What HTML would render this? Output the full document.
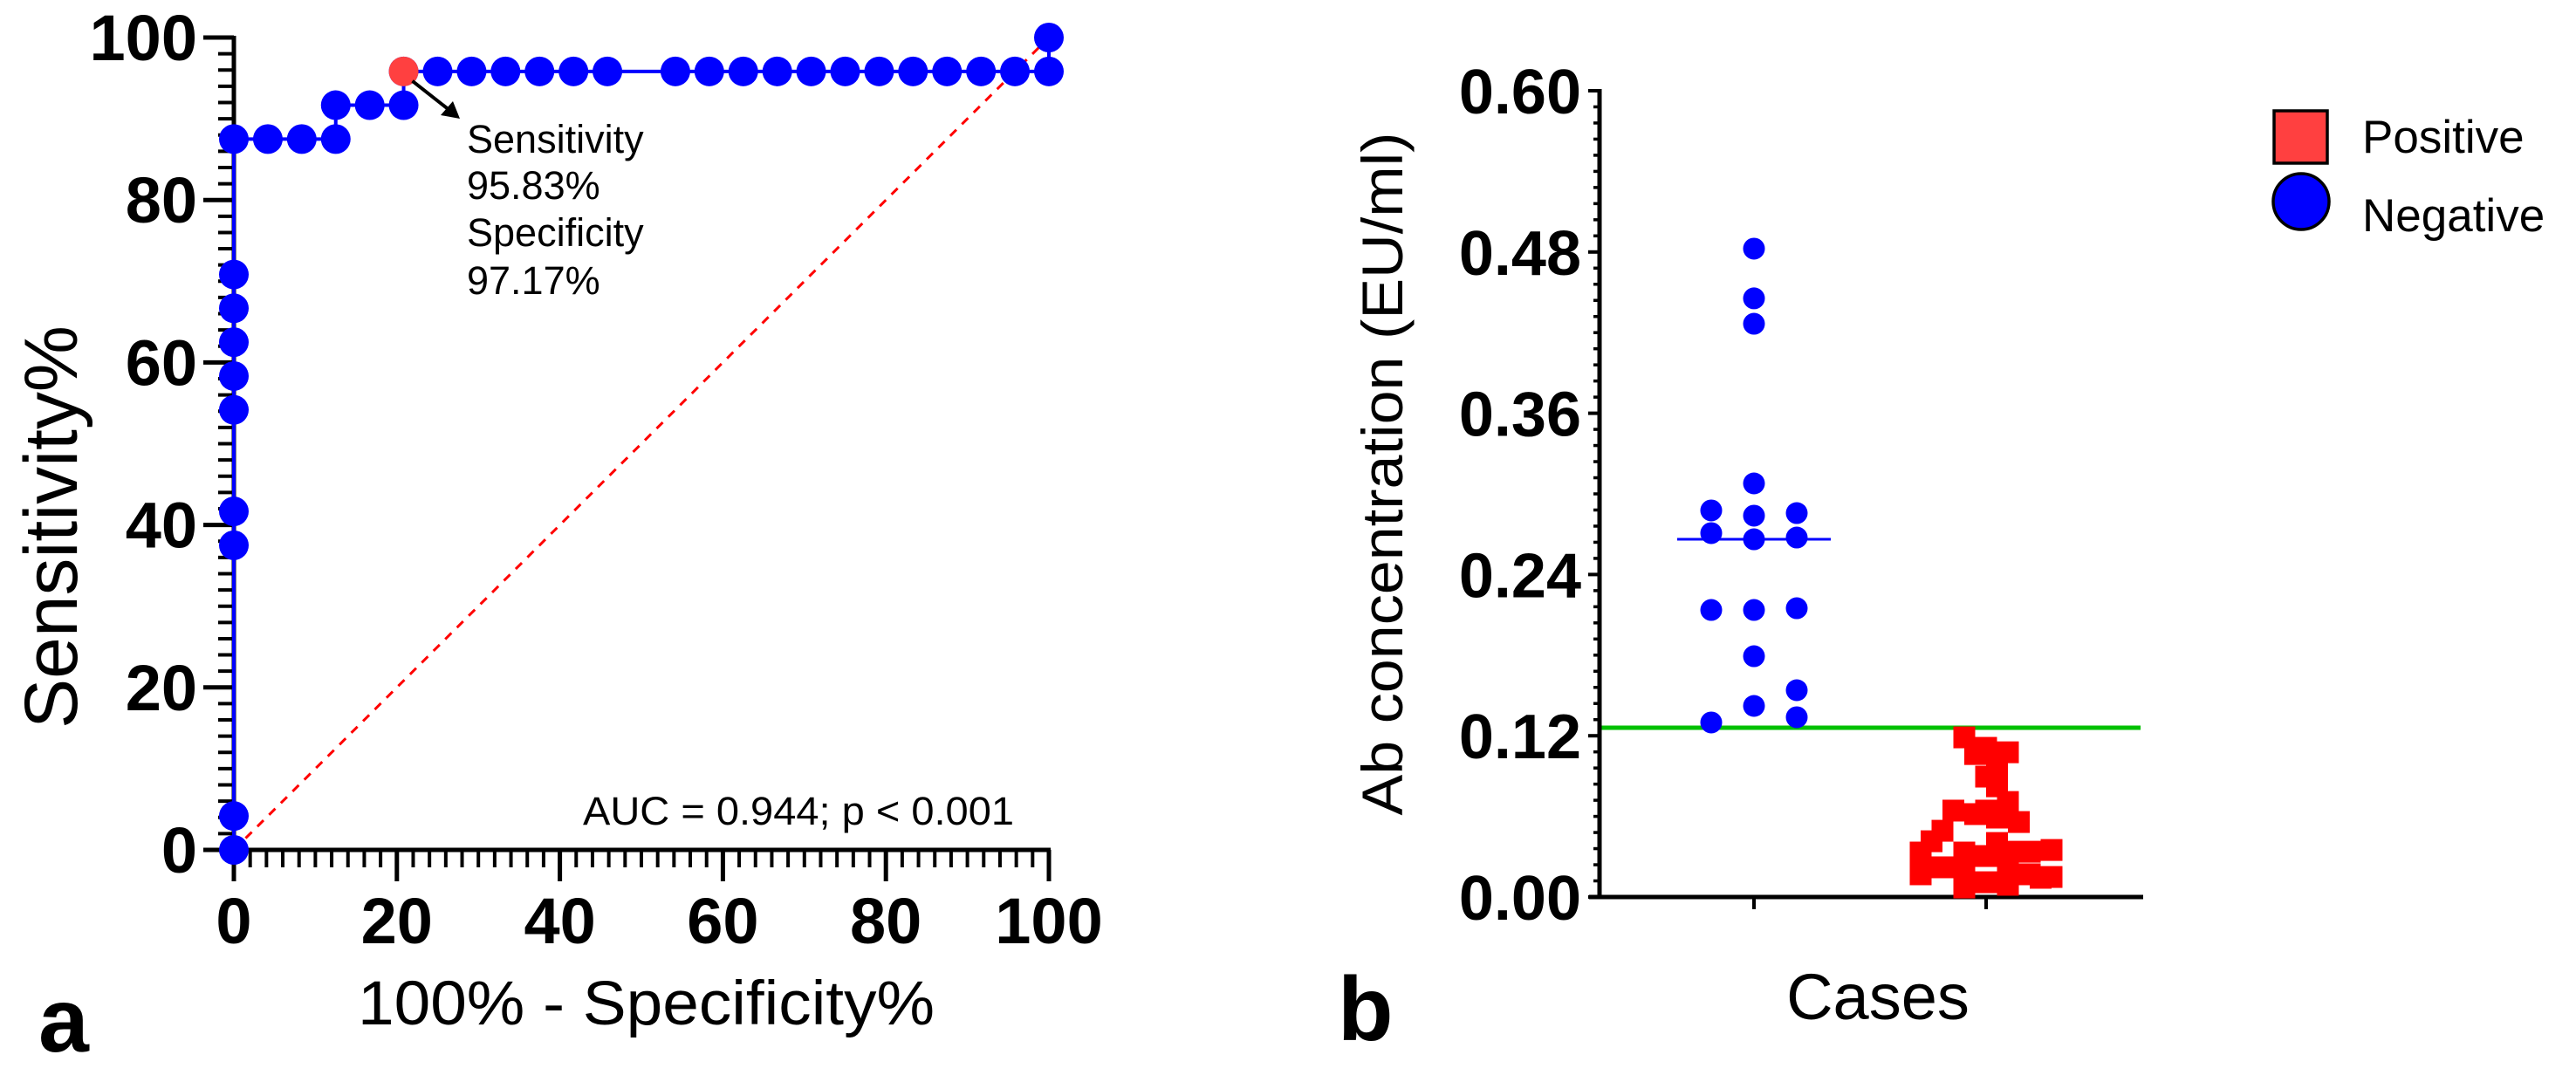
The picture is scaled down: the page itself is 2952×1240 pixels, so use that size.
<!DOCTYPE html>
<html><head><meta charset="utf-8"><style>
html,body{margin:0;padding:0;background:#fff;}
svg{display:block;font-family:"Liberation Sans",Arial,sans-serif;}
</style></head><body>
<svg id="fig" width="2952" height="1240" viewBox="0 0 2952 1240" xmlns="http://www.w3.org/2000/svg">
<g id="pa"></g>
<g id="pb"></g>
</svg>
<script>
// ---- Panel a data (ROC) ----
const rocFpr  = [0,0,0,0,0,0,0,0,0,0,4.17,8.33,12.5,12.5,16.67,20.83,20.83,25,29.17,33.33,37.5,41.67,45.83,54.17,58.33,62.5,66.67,70.83,75,79.17,83.33,87.5,91.67,95.83,100,100];
const rocSens = [0,4.17,37.5,41.67,54.17,58.33,62.5,66.67,70.83,87.5,87.5,87.5,87.5,91.67,91.67,91.67,95.83,95.83,95.83,95.83,95.83,95.83,95.83,95.83,95.83,95.83,95.83,95.83,95.83,95.83,95.83,95.83,95.83,95.83,95.83,100];
const cutoffPoint = [20.83, 95.83];
const rocTicks = [0,20,40,60,80,100];
// ---- Panel b data ----
const bTicks = ["0.00","0.12","0.24","0.36","0.48","0.60"];
const negValues = [0.2877,0.2708,0.2136,0.1299, 0.4825,0.4455,0.4266,0.3078,0.2838,0.2662,0.2136,0.1792,0.1422, 0.2857,0.2675,0.2149,0.1539,0.1338];
const negColumn = [-1,-1,-1,-1, 0,0,0,0,0,0,0,0,0, 1,1,1,1,1];
const negMedian = 0.2662;
const posValues = [0.1188,0.111,0.1077,0.1064,0.098,0.0896,0.0824,0.0707,0.0643,0.0617,0.0643,0.0591,0.0558,0.0493,0.0415,0.0402,0.0331,0.0331,0.0305,0.0337,0.0337,0.035,0.0169,0.0221,0.0071,0.011,0.0091,0.0169,0.0143,0.0149,0.0221,0.0221];
const posJitter = [-1,0,1,-0.5,0.5,0,0.5,1,-1.5,-0.5,0,0.5,1.5,-2,-2.5,0.5,-3,-1,0,1,2,3,-3,-2,-1,0,1,2,2.5,3,-1,1];
const threshold = 0.126;

const NS="http://www.w3.org/2000/svg";
function mk(parent,tag,attrs,text){const e=document.createElementNS(NS,tag);for(const k in attrs)e.setAttribute(k,attrs[k]);if(text!==undefined)e.textContent=text;parent.appendChild(e);return e;}

// ===== Panel a =====
const pa=document.getElementById('pa');
const ax0=268,ax1=1202,ay0=974,ay1=43;
const sx=v=>ax0+(ax1-ax0)*v/100, sy=v=>ay0-(ay0-ay1)*v/100;
let dg=mk(pa,'line',{x1:sx(0),y1:sy(0),x2:sx(100),y2:sy(100),stroke:'#ff0000','stroke-width':3,'stroke-dasharray':'10,9'});


let yax=mk(pa,'line',{x1:ax0,y1:ay1-2,x2:ax0,y2:ay0+2,stroke:'#000','stroke-width':5});


let xax=mk(pa,'line',{x1:ax0-2,y1:ay0,x2:ax1+2,y2:ay0,stroke:'#000','stroke-width':5});


for(let v=0;v<=100;v+=2){
  const maj=v%20===0;
  let t=mk(pa,'line',{x1:sx(v),y1:ay0,x2:sx(v),y2:ay0+(maj?36:20),stroke:'#000','stroke-width':maj?5:4});
  
  
  let u=mk(pa,'line',{x1:ax0,y1:sy(v),x2:ax0-(maj?35:18),y2:sy(v),stroke:'#000','stroke-width':maj?5:4});
  
  
}
rocTicks.forEach(v=>{
  let t=mk(pa,'text',{x:sx(v),y:1081,'font-size':74,'font-weight':'bold','text-anchor':'middle'},String(v));
  
  
  let u=mk(pa,'text',{x:226,y:sy(v)+26,'font-size':74,'font-weight':'bold','text-anchor':'end'},String(v));
  
  
});
let pts=rocFpr.map((x,i)=>sx(x)+','+sy(rocSens[i])).join(' ');
let rl=mk(pa,'polyline',{points:pts,fill:'none',stroke:'#0000ff','stroke-width':4});


rocFpr.forEach((x,i)=>{
  let c=mk(pa,'circle',{cx:sx(x),cy:sy(rocSens[i]),r:17,fill:'#0000ff'});
  
  
});
let cp=mk(pa,'circle',{cx:sx(cutoffPoint[0]),cy:sy(cutoffPoint[1]),r:17,fill:'#ff4040'});


let ar=mk(pa,'line',{x1:sx(cutoffPoint[0])+10,y1:sy(cutoffPoint[1])+11,x2:516,y2:127,stroke:'#000','stroke-width':4});


let ah=mk(pa,'polygon',{points:'527,136 505,132 519,116',fill:'#000'});


const ann=[['Sensitivity',175],['95.83%',228],['Specificity',282],['97.17%',337]];
ann.forEach(a=>{
  let t=mk(pa,'text',{x:535,y:a[1],'font-size':45},a[0]);
  
  
});
let auc=mk(pa,'text',{x:668,y:945,'font-size':45,textLength:494,lengthAdjust:'spacingAndGlyphs'},'AUC = 0.944; p < 0.001');


let xt=mk(pa,'text',{x:410,y:1174,'font-size':71,textLength:661,lengthAdjust:'spacingAndGlyphs'},'100% - Specificity%');


let yt=mk(pa,'text',{x:0,y:0,'font-size':86,'text-anchor':'middle',transform:'translate(88,604) rotate(-90)',textLength:462,lengthAdjust:'spacingAndGlyphs'},'Sensitivity%');


let la=mk(pa,'text',{x:44,y:1205,'font-size':104,'font-weight':'bold'},'a');



// ===== Panel b =====
const pb=document.getElementById('pb');
const bx0=1833,bx1=2456,by0=1028,by1=104;
const by=v=>by0-(by0-by1)*v/0.6;
const negX=2010,posX=2276,colStep=49,jitStep=25;
let gl=mk(pb,'line',{x1:bx0,y1:by(threshold),x2:2453,y2:by(threshold),stroke:'#00c000','stroke-width':5});


let byax=mk(pb,'line',{x1:bx0,y1:by1-2,x2:bx0,y2:by0+2,stroke:'#000','stroke-width':5});


let bxax=mk(pb,'line',{x1:bx0-12,y1:by0,x2:bx1,y2:by0,stroke:'#000','stroke-width':5});


for(let i=0;i<=50;i++){
  const v=i*0.012, maj=i%10===0;
  let t=mk(pb,'line',{x1:bx0,y1:by(v),x2:bx0-(maj?13:7),y2:by(v),stroke:'#000','stroke-width':maj?4:3.5});
  
  
}
bTicks.forEach(s=>{
  let t=mk(pb,'text',{x:1812,y:by(parseFloat(s))+26,'font-size':72,'font-weight':'bold','text-anchor':'end'},s);
  
  
});
[negX,posX].forEach(x=>{
  let t=mk(pb,'line',{x1:x,y1:by0,x2:x,y2:by0+14,stroke:'#000','stroke-width':4});
  
  
});
let md=mk(pb,'line',{x1:negX-88,y1:by(negMedian),x2:negX+88,y2:by(negMedian),stroke:'#0000ff','stroke-width':3});


negValues.forEach((v,i)=>{
  let c=mk(pb,'circle',{cx:negX+negColumn[i]*colStep,cy:by(v),r:12.5,fill:'#0000ff'});
  
  
});
posValues.forEach((v,i)=>{
  let r=mk(pb,'rect',{x:posX+posJitter[i]*jitStep-12.5,y:by(v)-12.5,width:25,height:25,fill:'#ff0000'});
  
  
});
let bt=mk(pb,'text',{x:0,y:0,'font-size':66,'text-anchor':'middle',transform:'translate(1607,543) rotate(-90)',textLength:783,lengthAdjust:'spacingAndGlyphs'},'Ab concentration (EU/ml)');


let ct=mk(pb,'text',{x:2152,y:1168,'font-size':74,'text-anchor':'middle'},'Cases');


let lb=mk(pb,'text',{x:1533,y:1192,'font-size':104,'font-weight':'bold'},'b');


const lg=mk(pb,'g',{});


let ls=mk(lg,'rect',{x:2606,y:127,width:61,height:60,fill:'#ff4040',stroke:'#000','stroke-width':3.5});


let lt1=mk(lg,'text',{x:2707,y:175,'font-size':53},'Positive');


let lc=mk(lg,'ellipse',{cx:2637,cy:231,rx:32,ry:32,fill:'#0000ff',stroke:'#000','stroke-width':3.5});


let lt2=mk(lg,'text',{x:2707,y:265,'font-size':53},'Negative');


</script>
</body></html>
